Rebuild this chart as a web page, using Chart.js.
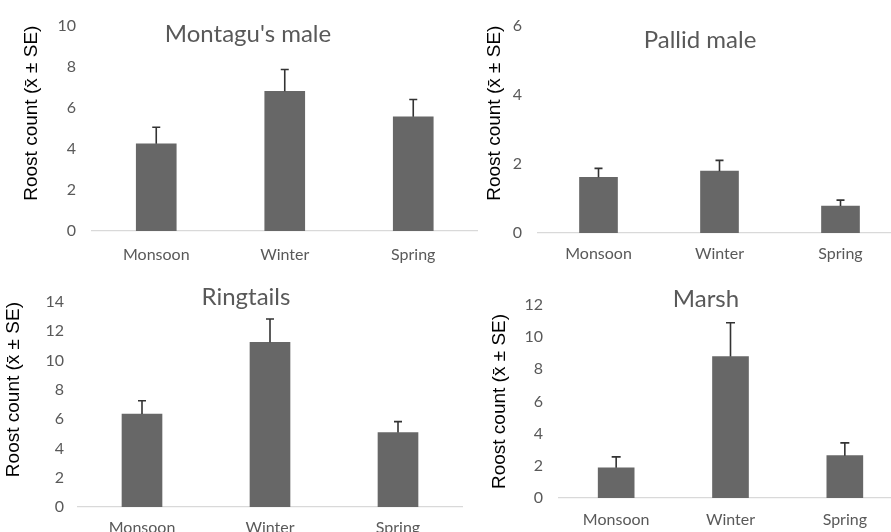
<!DOCTYPE html>
<html lang="en">
<head>
  <meta charset="UTF-8">
  <title>Roost counts by season</title>
  <script src="https://cdn.jsdelivr.net/npm/chart.js"></script>
  <style>
    html, body { margin: 0; padding: 0; background: #fff; overflow: hidden; }
    body { width: 891px; height: 532px; position: relative; }
    .panel { position: absolute; }
  </style>
</head>
<body>
  <div class="panel" style="left:0;top:0;width:480px;height:268px;"><canvas id="c1"></canvas></div>
  <div class="panel" style="left:480px;top:0;width:425px;height:268px;"><canvas id="c2"></canvas></div>
  <div class="panel" style="left:0;top:268px;width:480px;height:264px;"><canvas id="c3"></canvas></div>
  <div class="panel" style="left:480px;top:268px;width:425px;height:264px;"><canvas id="c4"></canvas></div>

  <script>
    // data
    const seasons = ['Monsoon', 'Winter', 'Spring'];

    const montaguMean = [4.25, 6.8, 5.56];
    const montaguSE = [0.8, 1.06, 0.84];

    const pallidMean = [1.61, 1.79, 0.78];
    const pallidSE = [0.26, 0.31, 0.17];

    const ringtailMean = [6.35, 11.25, 5.08];
    const ringtailSE = [0.91, 1.59, 0.75];

    const marshMean = [1.88, 8.8, 2.63];
    const marshSE = [0.68, 2.1, 0.8];

    const yLabel = 'Roost count (x\u0304 \u00B1 SE)';

    // error bars (upper only) + panel title, drawn through the chart's scales
    const extras = {
      id: 'extras',
      afterDatasetsDraw(chart, args, opts) {
        const { ctx, scales: { x, y } } = chart;
        const means = chart.data.datasets[0].data;
        ctx.save();
        ctx.strokeStyle = '#333';
        ctx.lineWidth = 1.6;
        means.forEach((m, i) => {
          const px = x.getPixelForValue(i);
          const top = y.getPixelForValue(m + opts.se[i]);
          const base = y.getPixelForValue(m);
          ctx.beginPath();
          ctx.moveTo(px, base);
          ctx.lineTo(px, top);
          ctx.moveTo(px - opts.cap, top);
          ctx.lineTo(px + opts.cap, top);
          ctx.stroke();
        });
        ctx.fillStyle = '#595959';
        ctx.font = '24px Lato';
        ctx.textAlign = 'center';
        ctx.textBaseline = 'middle';
        ctx.fillText(opts.title, opts.tx, opts.ty);
        ctx.restore();
      }
    };

    function makePanel(id, cfg) {
      new Chart(document.getElementById(id), {
        type: 'bar',
        data: {
          labels: seasons,
          datasets: [{
            data: cfg.mean,
            backgroundColor: '#676767',
            barThickness: cfg.bar,
          }],
        },
        plugins: [extras],
        options: {
          responsive: true,
          maintainAspectRatio: false,
          animation: false,
          layout: { padding: { top: cfg.top, right: cfg.right, left: 0, bottom: 0 } },
          plugins: {
            legend: { display: false },
            tooltip: { enabled: false },
            extras: { se: cfg.se, title: cfg.title, tx: cfg.tx, ty: cfg.ty, cap: cfg.cap },
          },
          scales: {
            x: {
              grid: { display: false, drawTicks: false },
              border: { display: true, color: '#d9d9d9', width: 1.2 },
              ticks: { color: '#595959', font: { family: 'Lato', size: 16 }, padding: cfg.xpad },
              afterFit(s) { s.height = cfg.xh; },
            },
            y: {
              min: 0,
              max: cfg.max,
              grid: { display: false, drawTicks: false },
              border: { display: false },
              ticks: { stepSize: 2, color: '#595959', font: { family: 'Lato', size: 16 }, padding: cfg.ypad },
              title: {
                display: true,
                text: yLabel,
                color: '#000',
                align: cfg.talign,
                font: { family: 'Liberation Sans', size: 19 },
                padding: { top: cfg.tpad, bottom: 0 },
              },
              afterFit(s) { s.width = cfg.yw; },
            },
          },
        },
      });
    }

    makePanel('c1', { mean: montaguMean, se: montaguSE, max: 10, bar: 40, cap: 4,
      top: 21, right: 2.5, xh: 37, yw: 92, xpad: 14, ypad: 16, tpad: 20.5, talign: 'end',
      title: "Montagu's male", tx: 248, ty: 34 });

    makePanel('c2', { mean: pallidMean, se: pallidSE, max: 6, bar: 38, cap: 4,
      top: 25, right: 4, xh: 35, yw: 58, xpad: 11, ypad: 16, tpad: 3.5, talign: 'end',
      title: 'Pallid male', tx: 220, ty: 40 });

    makePanel('c3', { mean: ringtailMean, se: ringtailSE, max: 14, bar: 40, cap: 4,
      top: 34, right: 18, xh: 25, yw: 78, xpad: 11, ypad: 14, tpad: 2, talign: 'end',
      title: 'Ringtails', tx: 246, ty: 29 });

    makePanel('c4', { mean: marshMean, se: marshSE, max: 12, bar: 36, cap: 4.5,
      top: 37, right: 3, xh: 34, yw: 79, xpad: 12.5, ypad: 16, tpad: 8.5, talign: 'center',
      title: 'Marsh', tx: 226, ty: 31 });
  </script>
</body>
</html>
